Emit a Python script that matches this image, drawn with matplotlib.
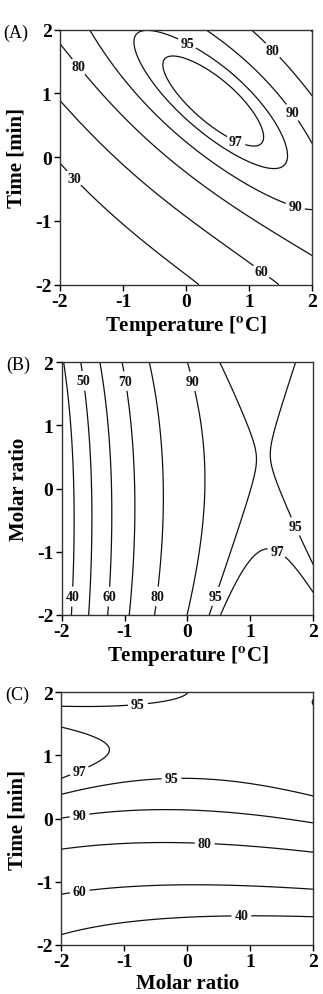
import matplotlib
matplotlib.use("Agg")
import matplotlib.pyplot as plt
import numpy as np

plt.rcParams['font.family'] = 'Liberation Serif'
plt.rcParams['mathtext.fontset'] = 'stix'
plt.rcParams['axes.unicode_minus'] = False

# fitted response surfaces (coded levels -2..2), terms x^i * y^j
terms = [(0, 0), (0, 1), (1, 0), (0, 2), (1, 1), (2, 0), (0, 3), (1, 2), (2, 1), (3, 0),
         (0, 4), (1, 3), (2, 2), (3, 1), (4, 0)]
coef_a = [85.427, 21.029, 16.57, -7.9652, -10.629, -5.827, -1.0368, -2.1725, -1.9295, -0.48941,
          0.33702, 0.79699, 1.0801, 0.37018, 0.0069074]
coef_b = [86.468, -0.040563, 14.468, 0.85557, -0.70077, -6.0509, 0.0046261, 0.0084611, -0.039799, 0.094223,
          0.010877, -0.041244, 0.016616, 0.04426, 0.0017801]
coef_c = [87.851, 16.9, 0.51909, -9.3803, -0.47453, 0.64964, 0.39326, -0.6319, -0.31348, -0.057322,
          0.48215, 0.44952, -0.05119, 0.0036342, 0.0010431]

levels_a = [30, 60, 80, 90, 95, 97]
levels_b = [40, 50, 60, 70, 80, 90, 95, 97]
levels_c = [40, 60, 80, 90, 95, 97]
ticks = [-2, -1, 0, 1, 2]

W, H = 323, 995
fig = plt.figure(figsize=(W / 100, H / 100), dpi=100)

def ax_px(l, t, w, h):
    return fig.add_axes([l / W, (H - t - h) / H, w / W, h / H])

g = np.linspace(-2, 2, 300)
GX, GY = np.meshgrid(g, g)
temp_lbl = 'Temperature [$\\mathbf{^{o}}$C]'
panels = [
    ("(A)", coef_a, levels_a, (60, 30.7, 252, 255), temp_lbl, 'Time [min]',
     [(-1.68, 1.44), (0.04, 1.83), (1.41, 1.71), (1.74, 0.74), (0.89, 0.46), (-1.73, -0.28), (1.74, -0.75), (1.17, -1.83)]),
    ("(B)", coef_b, levels_b, (61.7, 363.3, 251.6, 252.7), temp_lbl, 'Molar ratio',
     [(-1.63, 1.71), (-0.94, 1.71), (0.12, 1.71), (-1.79, -1.71), (-1.21, -1.71), (-0.45, -1.71), (0.46, -1.71), (1.71, -0.6), (1.44, -0.96)]),
    ("(C)", coef_c, levels_c, (61, 693.3, 252.3, 252.7), 'Molar ratio', 'Time [min]',
     [(-0.77, 1.69), (-1.7, 0.73), (-0.25, 0.68), (-1.71, 0.07), (0.28, -0.31), (-1.7, -1.18), (0.86, -1.55)]),
]

for tag, coef, levels, box, xl, yl, lab in panels:
    ax = ax_px(*box)
    Z = sum(c * GX**i * GY**j for c, (i, j) in zip(coef, terms))
    cs = ax.contour(GX, GY, Z, levels=levels, colors='#111111', linewidths=0.9)
    txt = ax.clabel(cs, fmt='%d', fontsize=10, inline=True, inline_spacing=3, manual=lab)
    for t in txt:
        t.set_fontweight('bold')
        t.set_rotation(0)
    ax.set_xlim(-2, 2)
    ax.set_ylim(-2, 2)
    ax.set_xticks(ticks)
    ax.set_yticks(ticks)
    ax.tick_params(direction='out', length=4, width=1, labelsize=14, pad=2)
    for lb in ax.get_xticklabels() + ax.get_yticklabels():
        lb.set_fontweight('bold')
    for s in ax.spines.values():
        s.set_linewidth(1.0)
        s.set_color('#333333')
    ax.set_xlabel(xl, fontsize=15, fontweight='bold', labelpad=2)
    ax.set_ylabel(yl, fontsize=15, fontweight='bold', labelpad=6)
    ax.text(-0.125, 0.99, tag, transform=ax.transAxes, fontsize=13, ha='right', va='center')

fig.savefig("out.png", dpi=100)
